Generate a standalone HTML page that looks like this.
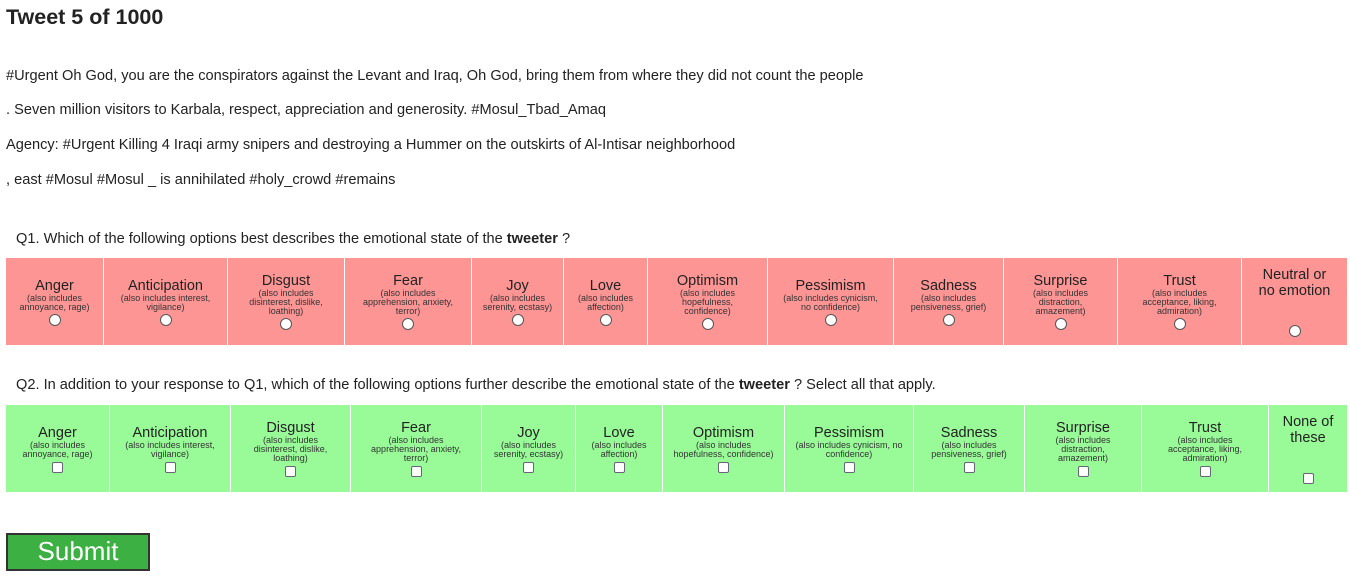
<!DOCTYPE html>
<html><head><meta charset="utf-8">
<style>
body{margin:0;width:1350px;height:578px;background:#fff;font-family:"Liberation Sans",Arial,sans-serif;color:#222;position:relative;overflow:hidden}
.t{position:absolute;left:6px;font-size:14.6px;white-space:nowrap}
h1{position:absolute;left:6px;top:5px;margin:0;font-size:21.5px;font-weight:bold}
.cell{position:absolute;display:flex;flex-direction:column;align-items:center;justify-content:center;text-align:center;box-sizing:border-box;padding:0 10px}
.r{background:#fe9595;top:258px;height:87px}
.g{background:#98fb98;top:405px;height:87px}
.lab{font-size:14.5px;line-height:16px}
.sub{font-size:9px;line-height:9px;color:#333}
.rad{width:10px;height:10px;border-radius:50%;background:#fff;border:1px solid #555;margin-top:2px}
.chk{width:9px;height:9px;border-radius:2px;background:#fff;border:1px solid #667;margin-top:3px}
#submit{position:absolute;left:6px;top:533px;width:144px;height:38px;box-sizing:border-box;background:#3cb043;border:2px solid #333;color:#fff;font-size:26px;font-family:"Liberation Sans",Arial,sans-serif;line-height:32px;text-align:center}
</style></head><body>
<h1>Tweet 5 of 1000</h1>
<div class="t" style="top:68px">#Urgent Oh God, you are the conspirators against the Levant and Iraq, Oh God, bring them from where they did not count the people</div>
<div class="t" style="top:102px">. Seven million visitors to Karbala, respect, appreciation and generosity. #Mosul_Tbad_Amaq</div>
<div class="t" style="top:137px">Agency: #Urgent Killing 4 Iraqi army snipers and destroying a Hummer on the outskirts of Al-Intisar neighborhood</div>
<div class="t" style="top:172px">, east #Mosul #Mosul _ is annihilated #holy_crowd #remains</div>
<div class="t" style="top:231px;left:16px">Q1. Which of the following options best describes the emotional state of the <b>tweeter</b> ?</div>
<div class="t" style="top:377px;left:16px">Q2. In addition to your response to Q1, which of the following options further describe the emotional state of the <b>tweeter</b> ? Select all that apply.</div>
<div id="rows"></div>
<div id="submit">Submit</div>
<script>
const labels=["Anger","Anticipation","Disgust","Fear","Joy","Love","Optimism","Pessimism","Sadness","Surprise","Trust"];
const subs=["(also includes annoyance, rage)","(also includes interest, vigilance)","(also includes disinterest, dislike, loathing)","(also includes apprehension, anxiety, terror)","(also includes serenity, ecstasy)","(also includes affection)","(also includes hopefulness, confidence)","(also includes cynicism, no confidence)","(also includes pensiveness, grief)","(also includes distraction, amazement)","(also includes acceptance, liking, admiration)"];
const redX=[6,104,228,345,472,564,648,768,894,1004,1118,1242,1348];
const greenX=[6,110,231,351,482,576,663,785,914,1025,1142,1269,1348];
const root=document.getElementById('rows');
function row(xs,cls,mark,last,prefix){
  for(let i=0;i<12;i++){
    const c=document.createElement('div');
    c.className='cell '+cls;
    c.style.left=xs[i]+'px';c.style.width=(xs[i+1]-xs[i]-1)+'px';
    
    
    if(i<11){
      c.innerHTML='<div class="lab">'+labels[i]+'</div><div class="sub">'+subs[i]+'</div>';
    }else{
      c.style.justifyContent='space-between';c.style.padding='9px 8px 8px';
      c.innerHTML='<div class="lab">'+last+'</div>';
    }
    const m=document.createElement('div');m.className=mark;
    
    
    c.appendChild(m);root.appendChild(c);
  }
}
row(redX,'r','rad','Neutral or<br>no emotion','q1');
row(greenX,'g','chk','None of<br>these','q2');
</script>
</body></html>
